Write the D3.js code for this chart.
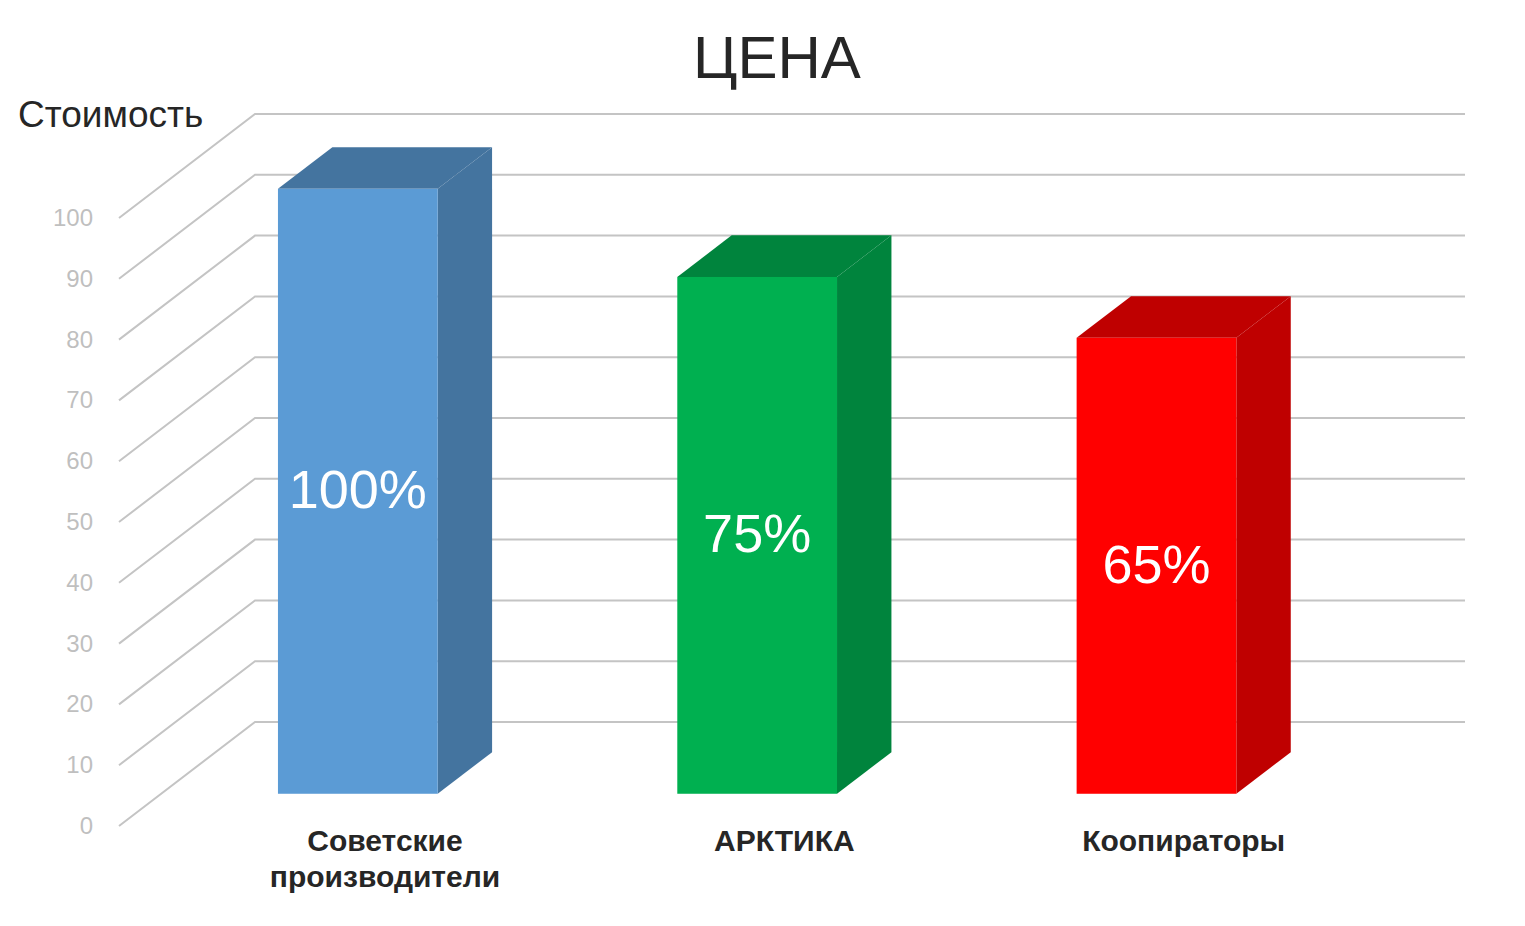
<!DOCTYPE html>
<html>
<head>
<meta charset="utf-8">
<script src="https://cdn.jsdelivr.net/npm/d3@7"></script>
<style>
  html, body { margin: 0; padding: 0; background: #fff; }
  svg { display: block; font-family: "Liberation Sans", Arial, sans-serif; }
</style>
</head>
<body>
<svg id="chart" width="1525" height="926"></svg>
<script>
// ---- data ----
const categories = ["Советские производители", "АРКТИКА", "Коопираторы"];
const categoryLines = [["Советские", "производители"], ["АРКТИКА"], ["Коопираторы"]];
const values = [99.5, 85, 75];
const valueLabels = ["100%", "75%", "65%"];
const yTicks = [0, 10, 20, 30, 40, 50, 60, 70, 80, 90, 100];
const title = "ЦЕНА";
const yTitle = "Стоимость";
const frontColors = ["#5B9BD5", "#00B050", "#FF0000"];
const sideColors = ["#44749F", "#00843D", "#BF0000"];

// ---- layout / 3D projection ----
const svg = d3.select("#chart");
const x0 = 119, y0 = 826;         // front-left floor corner
const DX = 136, DY = 104;          // depth offsets (z = 0..1)
const W = 1210;                    // plot width
const zFront = 0.31, zBack = 0.71; // bar depth

const y = d3.scaleLinear().domain([0, 100]).range([0, 608]);
const x = d3.scaleBand().domain(categories).range([-3, 1195])
  .paddingInner(0.6).paddingOuter(0.3);

const proj = (X, v, z) => [x0 + X + z * DX, y0 - y(v) - z * DY];

// gridlines (left side wall + back wall)
const gGrid = svg.append("g");
gGrid.selectAll("path").data(yTicks).join("path")
  .attr("d", t => d3.line()([proj(0, t, 0), proj(0, t, 1), proj(W, t, 1)]))
  .attr("fill", "none").attr("stroke", "#c4c4c4").attr("stroke-width", 2);

// y tick labels
svg.append("g").selectAll("text").data(yTicks).join("text")
  .attr("x", x0 - 26)
  .attr("y", t => proj(0, t, 0)[1] + 8)
  .attr("text-anchor", "end")
  .attr("font-size", 24)
  .attr("fill", "#BFBFBF")
  .text(t => t);

// bars
const gBars = svg.append("g");
categories.forEach((c, i) => {
  const v = values[i];
  const X0 = x(c), X1 = x(c) + x.bandwidth();
  const g = gBars.append("g");
  // side face
  g.append("path")
    .attr("d", d3.line()([proj(X1, 0, zFront), proj(X1, 0, zBack), proj(X1, v, zBack), proj(X1, v, zFront)]) + "Z")
    .attr("fill", sideColors[i]);
  // top face
  g.append("path")
    .attr("d", d3.line()([proj(X0, v, zFront), proj(X0, v, zBack), proj(X1, v, zBack), proj(X1, v, zFront)]) + "Z")
    .attr("fill", sideColors[i]);
  // front face
  const tl = proj(X0, v, zFront), br = proj(X1, 0, zFront);
  g.append("rect")
    .attr("x", tl[0]).attr("y", tl[1])
    .attr("width", br[0] - tl[0]).attr("height", br[1] - tl[1])
    .attr("fill", frontColors[i]);
  // value label
  g.append("text")
    .attr("x", (tl[0] + br[0]) / 2)
    .attr("y", (tl[1] + br[1]) / 2 + 17)
    .attr("text-anchor", "middle")
    .attr("font-size", 54)
    .attr("fill", "#ffffff")
    .text(valueLabels[i]);
});

// category labels
categories.forEach((c, i) => {
  const cx = proj(x(c) + x.bandwidth() / 2, 0, (zFront + zBack) / 2)[0];
  const t = svg.append("text")
    .attr("text-anchor", "middle")
    .attr("font-size", 30)
    .attr("font-weight", "bold")
    .attr("fill", "#262626");
  categoryLines[i].forEach((line, j) => {
    t.append("tspan").attr("x", cx).attr("y", 851 + j * 36).text(line);
  });
});

// titles
svg.append("text")
  .attr("x", 777).attr("y", 78)
  .attr("text-anchor", "middle")
  .attr("font-size", 60)
  .attr("fill", "#262626")
  .text(title);

svg.append("text")
  .attr("x", 18).attr("y", 127)
  .attr("font-size", 37)
  .attr("fill", "#262626")
  .text(yTitle);
</script>
</body>
</html>
